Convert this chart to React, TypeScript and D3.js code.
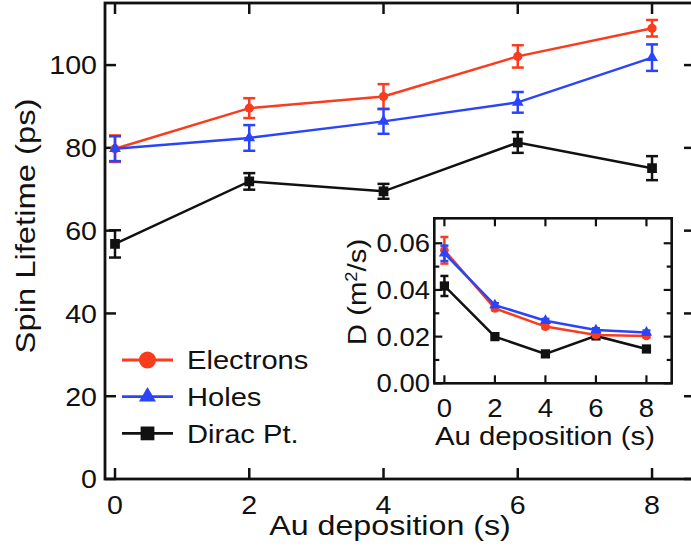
import React from 'react';
import * as d3 from 'd3';

// Au deposition times (s)
const depositions = [0, 2, 4, 6, 8];

// main panel: spin lifetime (ps)
const electronsLifetime = [79.8, 89.6, 92.4, 102.1, 108.9];
const electronsLifetimeErr = [3.2, 2.4, 3.0, 2.7, 2.0];
const holesLifetime = [79.8, 82.4, 86.4, 91.0, 101.8];
const holesLifetimeErr = [3.0, 3.1, 3.0, 2.5, 3.2];
const diracLifetime = [56.8, 71.9, 69.5, 81.3, 75.1];
const diracLifetimeErr = [3.3, 2.0, 1.8, 2.5, 2.9];

// inset: diffusion coefficient D (m^2/s)
const electronsD = [0.057, 0.0321, 0.0243, 0.0207, 0.0203];
const electronsDErr = [0.0057, 0.0008, 0.0008, 0.0008, 0.0008];
const holesD = [0.0557, 0.0335, 0.0268, 0.0228, 0.0218];
const holesDErr = [0.0033, 0.0008, 0.0008, 0.0008, 0.0008];
const diracD = [0.0417, 0.02, 0.0126, 0.0203, 0.0147];
const diracDErr = [0.0043, 0.0006, 0.0006, 0.0006, 0.0006];

const mainXTicks = [0, 2, 4, 6, 8];
const mainYTicks = [0, 20, 40, 60, 80, 100];
const insetXTicks = [0, 2, 4, 6, 8];
const insetYTicks = [0, 0.02, 0.04, 0.06];
const insetYMinor = [0.01, 0.03, 0.05];

const RED = '#fa3c1e';
const BLUE = '#2a44fb';
const BLACK = '#111';
const FONT = '"Liberation Sans", Arial, Helvetica, sans-serif';

type Series = { name: string; color: string; shape: d3.SymbolType; values: number[]; errs: number[] };

const mainSeries: Series[] = [
  { name: 'Dirac Pt.', color: BLACK, shape: d3.symbolSquare, values: diracLifetime, errs: diracLifetimeErr },
  { name: 'Electrons', color: RED, shape: d3.symbolCircle, values: electronsLifetime, errs: electronsLifetimeErr },
  { name: 'Holes', color: BLUE, shape: d3.symbolTriangle, values: holesLifetime, errs: holesLifetimeErr },
];
const insetSeries: Series[] = [
  { name: 'Dirac Pt.', color: BLACK, shape: d3.symbolSquare, values: diracD, errs: diracDErr },
  { name: 'Electrons', color: RED, shape: d3.symbolCircle, values: electronsD, errs: electronsDErr },
  { name: 'Holes', color: BLUE, shape: d3.symbolTriangle, values: holesD, errs: holesDErr },
];
const legendItems = [mainSeries[1], mainSeries[2], mainSeries[0]];

// text slightly stretched horizontally like the original figure
const Txt = ({ x, y, size, sx = 1.12, anchor = 'middle', rotate = 0, children }: any) => (
  <text
    transform={`translate(${x},${y}) rotate(${rotate}) scale(${sx},1)`}
    fontSize={size}
    fontFamily={FONT}
    textAnchor={anchor}
    fill="#111"
  >
    {children}
  </text>
);

const symbolSize = (shape: d3.SymbolType, big: boolean) => {
  if (shape === d3.symbolCircle) return big ? 230 : 66;
  if (shape === d3.symbolSquare) return big ? 190 : 95;
  return big ? 125 : 60;
};

const Panel = ({ series, x, y, cap, small }: any) => {
  const line = d3.line<number>().x((_, i) => x(depositions[i])).y(v => y(v));
  return (
    <g>
      {series.map((s: Series) => (
        <g key={s.name}>
          <path d={line(s.values) || ''} fill="none" stroke={s.color} strokeWidth={2.5} />
          {s.values.map((v, i) => {
            const cx = x(depositions[i]);
            const y1 = y(v + s.errs[i]);
            const y2 = y(v - s.errs[i]);
            return (
              <g key={i} stroke={s.color} strokeWidth={2.5}>
                <line x1={cx} x2={cx} y1={y1} y2={y2} />
                <line x1={cx - cap} x2={cx + cap} y1={y1} y2={y1} />
                <line x1={cx - cap} x2={cx + cap} y1={y2} y2={y2} />
              </g>
            );
          })}
          {s.values.map((v, i) => (
            <path
              key={'m' + i}
              transform={`translate(${x(depositions[i])},${y(v)})`}
              d={d3.symbol().type(s.shape).size(symbolSize(s.shape, false) * (small ? 0.9 : 1))() || ''}
              fill={s.color}
            />
          ))}
        </g>
      ))}
    </g>
  );
};

export default function App() {
  const W = 691;
  const H = 554;

  const xMain = d3.scaleLinear().domain([-0.149, 8.64]).range([105, 695]);
  const yMain = d3.scaleLinear().domain([0, 115]).range([479, 3]);
  const [mx0, mx1] = xMain.range();
  const [my0, my1] = yMain.range();

  const xIn = d3.scaleLinear().domain([-0.4, 9.0]).range([434.3, 671.7]);
  const yIn = d3.scaleLinear().domain([0, 0.0707]).range([383.3, 218.3]);
  const [ix0, ix1] = xIn.range();
  const [iy0, iy1] = yIn.range();

  const mt = 11;
  const it = 8;

  return (
    <svg width={W} height={H} style={{ position: 'absolute', left: 0, top: 0, background: '#fff' }}>
      <rect x={0} y={0} width={W} height={H} fill="#fff" />

      {/* main frame */}
      <rect x={mx0} y={my1} width={mx1 - mx0} height={my0 - my1} fill="none" stroke="#111" strokeWidth={2.8} />
      {mainXTicks.map(t => (
        <g key={'mx' + t} stroke="#111" strokeWidth={2.5}>
          <line x1={xMain(t)} x2={xMain(t)} y1={my0} y2={my0 - mt} />
          <line x1={xMain(t)} x2={xMain(t)} y1={my1} y2={my1 + mt} />
        </g>
      ))}
      {mainYTicks.map(t => (
        <g key={'my' + t} stroke="#111" strokeWidth={2.5}>
          <line x1={mx0} x2={mx0 + mt} y1={yMain(t)} y2={yMain(t)} />
          <line x1={mx1} x2={mx1 - mt} y1={yMain(t)} y2={yMain(t)} />
        </g>
      ))}
      {mainXTicks.map(t => (
        <Txt key={'mxl' + t} x={xMain(t)} y={513.5} size={26} sx={1.1}>{t}</Txt>
      ))}
      {mainYTicks.map(t => (
        <Txt key={'myl' + t} x={97} y={yMain(t) + 9.3} size={26} sx={1.1} anchor="end">{t}</Txt>
      ))}
      <Txt x={390} y={535} size={28} sx={1.15}>Au deposition (s)</Txt>
      <Txt x={35} y={226} size={28} sx={1.17} rotate={-90}>Spin Lifetime (ps)</Txt>

      <Panel series={mainSeries} x={xMain} y={yMain} cap={6} />

      {/* legend */}
      {legendItems.map((s, i) => {
        const ly = 360 + i * 36.7;
        return (
          <g key={'lg' + s.name}>
            <line x1={122} x2={173} y1={ly} y2={ly} stroke={s.color} strokeWidth={2.8} />
            <path
              transform={`translate(147.5,${ly})`}
              d={d3.symbol().type(s.shape).size(symbolSize(s.shape, true))() || ''}
              fill={s.color}
            />
            <Txt x={187} y={ly + 9.3} size={26} sx={1.12} anchor="start">{s.name}</Txt>
          </g>
        );
      })}

      {/* inset */}
      <rect x={ix0} y={iy1} width={ix1 - ix0} height={iy0 - iy1} fill="#fff" stroke="#111" strokeWidth={2.6} />
      {insetXTicks.map(t => (
        <g key={'ix' + t} stroke="#111" strokeWidth={2.2}>
          <line x1={xIn(t)} x2={xIn(t)} y1={iy0} y2={iy0 - it} />
          <line x1={xIn(t)} x2={xIn(t)} y1={iy1} y2={iy1 + it} />
        </g>
      ))}
      {insetYTicks.concat(insetYMinor).map(t => {
        const len = insetYTicks.includes(t) ? it : 5;
        return (
          <g key={'iy' + t} stroke="#111" strokeWidth={2.2}>
            <line x1={ix0} x2={ix0 + len} y1={yIn(t)} y2={yIn(t)} />
            <line x1={ix1} x2={ix1 - len} y1={yIn(t)} y2={yIn(t)} />
          </g>
        );
      })}
      {insetXTicks.map(t => (
        <Txt key={'ixl' + t} x={xIn(t)} y={417} size={25} sx={1.1}>{t}</Txt>
      ))}
      {insetYTicks.map(t => (
        <Txt key={'iyl' + t} x={430} y={yIn(t) + 9} size={25} sx={1.1} anchor="end">{t.toFixed(2)}</Txt>
      ))}
      <Txt x={545} y={445} size={25.5} sx={1.15}>Au deposition (s)</Txt>
      <text
        transform={`translate(366,292) rotate(-90) scale(1.15,1)`}
        fontSize={25.5}
        fontFamily={FONT}
        textAnchor="middle"
        fill="#111"
      >
        D (m<tspan fontSize={16} dy={-9}>2</tspan><tspan dy={9}>/s)</tspan>
      </text>

      <Panel series={insetSeries} x={xIn} y={yIn} cap={4} small />
    </svg>
  );
}
